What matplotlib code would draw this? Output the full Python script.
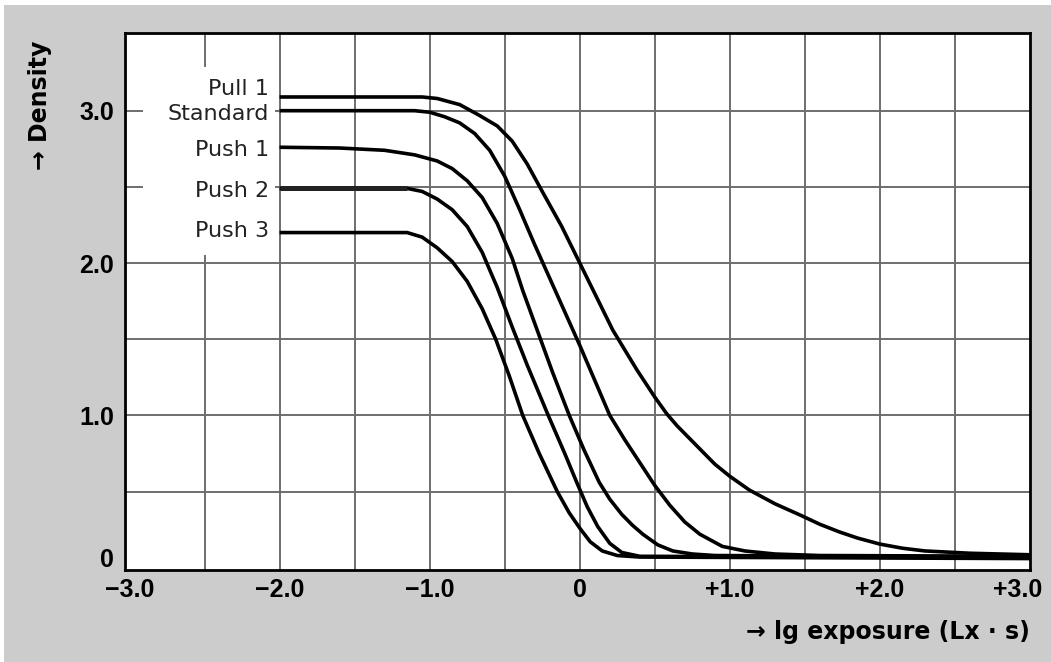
import matplotlib.pyplot as plt
from matplotlib.patches import Rectangle
from matplotlib.transforms import ScaledTranslation

plt.rcParams['font.family'] = ['Liberation Sans', 'DejaVu Sans']

# curve data (lg exposure, density)
pull1_x = [-2.0, -1.2, -1.05, -0.95, -0.8, -0.67, -0.55, -0.45, -0.35, -0.25, -0.12, 0.0, 0.1,
           0.22, 0.38, 0.5, 0.58, 0.65, 0.72, 0.8, 0.9, 1.0, 1.13, 1.3, 1.47, 1.6, 1.73, 1.85,
           2.0, 2.15, 2.3, 2.6, 3.0]
pull1_y = [3.09, 3.09, 3.09, 3.08, 3.04, 2.97, 2.9, 2.8, 2.65, 2.47, 2.24, 2.0, 1.8,
           1.56, 1.3, 1.12, 1.01, 0.93, 0.86, 0.78, 0.68, 0.6, 0.51, 0.42, 0.345, 0.285, 0.235,
           0.195, 0.155, 0.128, 0.11, 0.095, 0.085]

std_x = [-2.0, -1.1, -1.0, -0.9, -0.8, -0.7, -0.6, -0.5, -0.4, -0.3, -0.2, -0.1, 0.0, 0.1,
         0.2, 0.3, 0.4, 0.5, 0.6, 0.7, 0.8, 0.95, 1.1, 1.3, 1.6, 3.0]
std_y = [3.0, 3.0, 2.99, 2.96, 2.92, 2.85, 2.74, 2.57, 2.35, 2.12, 1.9, 1.68, 1.46, 1.23,
         1.0, 0.84, 0.69, 0.54, 0.41, 0.3, 0.22, 0.14, 0.11, 0.09, 0.08, 0.075]

push1_x = [-2.0, -1.6, -1.3, -1.1, -0.95, -0.85, -0.75, -0.65, -0.55, -0.45, -0.38, -0.28,
           -0.18, -0.07, 0.03, 0.13, 0.2, 0.28, 0.35, 0.42, 0.52, 0.62, 0.75, 0.9, 3.0]
push1_y = [2.76, 2.755, 2.74, 2.71, 2.67, 2.62, 2.54, 2.43, 2.26, 2.03, 1.82, 1.55,
           1.28, 1.0, 0.77, 0.56, 0.45, 0.35, 0.28, 0.22, 0.15, 0.11, 0.09, 0.08, 0.07]

push2_x = [-2.0, -1.15, -1.05, -0.95, -0.85, -0.75, -0.65, -0.55, -0.45, -0.35, -0.21, -0.1,
           -0.02, 0.05, 0.12, 0.2, 0.28, 0.4, 3.0]
push2_y = [2.49, 2.49, 2.47, 2.42, 2.35, 2.24, 2.07, 1.84, 1.58, 1.33, 1.0, 0.75,
           0.56, 0.4, 0.27, 0.16, 0.1, 0.075, 0.065]

push3_x = [-2.0, -1.15, -1.05, -0.95, -0.85, -0.75, -0.65, -0.56, -0.47, -0.38, -0.27, -0.15,
           -0.07, 0.0, 0.07, 0.15, 0.25, 0.4, 3.0]
push3_y = [2.2, 2.2, 2.17, 2.1, 2.01, 1.88, 1.7, 1.5, 1.26, 1.0, 0.75, 0.5,
           0.36, 0.26, 0.17, 0.11, 0.08, 0.07, 0.06]

curve_names = ['Pull 1', 'Standard', 'Push 1', 'Push 2', 'Push 3']
label_y = [3.14, 2.98, 2.74, 2.47, 2.21]

x_ticks = [-3.0, -2.0, -1.0, 0.0, 1.0, 2.0, 3.0]
x_ticklabels = ['\u22123.0', '\u22122.0', '\u22121.0', '0', '+1.0', '+2.0', '+3.0']
y_ticks = [0.0, 1.0, 2.0, 3.0]
y_ticklabels = ['0', '1.0', '2.0', '3.0']

fig = plt.figure(figsize=(10.51, 6.62), dpi=100, facecolor='white')
fig.patches.append(Rectangle((4 / 1051, 0), 1, 1 - 5 / 662, transform=fig.transFigure,
                             facecolor='#cccccc', edgecolor='none', zorder=-10))

ax = fig.add_axes([125 / 1051, 1 - 570 / 662, 905 / 1051, 537 / 662])
ax.set_facecolor('white')
ax.set_xlim(-3.03, 3.0)
ax.set_ylim(-0.015, 3.51)

# grid every 0.5
for gx in [-2.5, -2.0, -1.5, -1.0, -0.5, 0.0, 0.5, 1.0, 1.5, 2.0, 2.5]:
    ax.axvline(gx, color='#6e6e6e', lw=1.4, zorder=1)
for gy in [0.5, 1.0, 1.5, 2.0, 2.5, 3.0]:
    ax.axhline(gy, color='#6e6e6e', lw=1.4, zorder=1)

# white area behind the curve labels
ax.add_patch(Rectangle((-2.91, 2.05), 0.88, 1.24, facecolor='white', edgecolor='none', zorder=2))

for xs, ys in [(pull1_x, pull1_y), (std_x, std_y), (push1_x, push1_y),
               (push2_x, push2_y), (push3_x, push3_y)]:
    ax.plot(xs, ys, color='black', lw=2.6, solid_joinstyle='round', solid_capstyle='butt', zorder=3)
# the flat start of Push 2 is drawn heavier in the original
ax.plot(push2_x[:2], push2_y[:2], color='#222222', lw=3.6, solid_capstyle='butt', zorder=3)

for name, ly in zip(curve_names, label_y):
    ax.text(-2.07, ly, name, ha='right', va='center', fontsize=16, color='#222222',
            family='DejaVu Sans', zorder=4)

ax.set_xticks(x_ticks)
ax.set_xticklabels(x_ticklabels, fontsize=18, fontweight='bold')
ax.set_yticks(y_ticks)
ax.set_yticklabels(y_ticklabels, fontsize=18, fontweight='bold')
ax.tick_params(length=0, pad=8)
ax.tick_params(axis='x', pad=6)

# nudge end labels like the reference
xl = ax.get_xticklabels()
xl[-1].set_transform(xl[-1].get_transform() + ScaledTranslation(-12 / 100, 0, fig.dpi_scale_trans))
yl = ax.get_yticklabels()
yl[0].set_transform(yl[0].get_transform() + ScaledTranslation(0, 10 / 100, fig.dpi_scale_trans))

for sp in ax.spines.values():
    sp.set_linewidth(2.0)
    sp.set_color('black')
    sp.set_zorder(5)

fig.text(40 / 1051, 1 - 105 / 662, '\u2192 Density', rotation=90, ha='center', va='center',
         fontsize=17, fontweight='bold', family='DejaVu Sans')
fig.text(1030 / 1051, 1 - 632 / 662, '\u2192 lg exposure (Lx \u00b7 s)', ha='right', va='center',
         fontsize=17, fontweight='bold', family='DejaVu Sans')

fig.savefig('out.png', dpi=100, facecolor=fig.get_facecolor())
